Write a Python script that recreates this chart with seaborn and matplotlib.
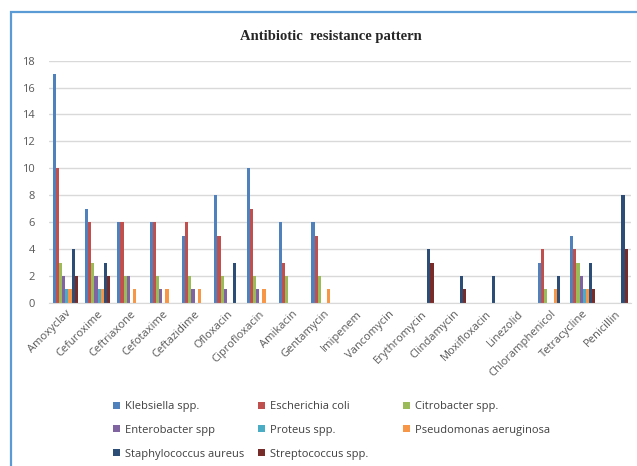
# ======================================================
# Antibiotic resistance pattern - clustered bar chart
# ======================================================

import pandas as pd
import numpy as np
import matplotlib.pyplot as plt
import seaborn as sns
from matplotlib.patches import Rectangle

# ======================================================
# DATOS
# ======================================================

antibiotics = ["Amoxyclav", "Cefuroxime", "Ceftriaxone", "Cefotaxime", "Ceftazidime",
               "Ofloxacin", "Ciprofloxacin", "Amikacin", "Gentamycin", "Imipenem",
               "Vancomycin", "Erythromycin", "Clindamycin", "Moxifloxacin", "Linezolid",
               "Chloramphenicol", "Tetracycline", "Penicillin"]

organisms = ["Klebsiella spp.", "Escherichia coli", "Citrobacter spp.",
             "Enterobacter spp", "Proteus spp.", "Pseudomonas aeruginosa",
             "Staphylococcus aureus", "Streptococcus spp."]

klebsiella   = [17, 7, 6, 6, 5, 8, 10, 6, 6, 0, 0, 0, 0, 0, 0, 3, 5, 0]
ecoli        = [10, 6, 6, 6, 6, 5, 7, 3, 5, 0, 0, 0, 0, 0, 0, 4, 4, 0]
citrobacter  = [3, 3, 2, 2, 2, 2, 2, 2, 2, 0, 0, 0, 0, 0, 0, 1, 3, 0]
enterobacter = [2, 2, 2, 1, 1, 1, 1, 0, 0, 0, 0, 0, 0, 0, 0, 0, 2, 0]
proteus      = [1, 1, 0, 0, 0, 0, 0, 0, 0, 0, 0, 0, 0, 0, 0, 0, 1, 0]
pseudomonas  = [1, 1, 1, 1, 1, 0, 1, 0, 1, 0, 0, 0, 0, 0, 0, 1, 1, 0]
staph        = [4, 3, 0, 0, 0, 3, 0, 0, 0, 0, 0, 4, 2, 2, 0, 2, 3, 8]
strep        = [2, 2, 0, 0, 0, 0, 0, 0, 0, 0, 0, 3, 1, 0, 0, 0, 1, 4]

series = [klebsiella, ecoli, citrobacter, enterobacter, proteus, pseudomonas, staph, strep]

colors = ["#4F81BD", "#C0504D", "#9BBB59", "#8064A2",
          "#4BACC6", "#F79646", "#2C4D75", "#772C2A"]

# formato largo para seaborn
rows = []
for org, vals in zip(organisms, series):
    for ab, v in zip(antibiotics, vals):
        rows.append({"Antibiotic": ab, "Organism": org, "Count": v})
df = pd.DataFrame(rows)

# ======================================================
# FIGURA
# ======================================================

sns.set_style("white")
plt.rcParams["font.family"] = ["Open Sans", "DejaVu Sans"]

fig = plt.figure(figsize=(6.37, 4.66), dpi=100)
ax = fig.add_axes([0.077, 0.35, 0.914, 0.52])

sns.barplot(data=df, x="Antibiotic", y="Count", hue="Organism",
            order=antibiotics, hue_order=organisms, palette=colors,
            width=0.78, linewidth=0, saturation=1, ax=ax, legend=True)

ax.set_ylim(0, 18)
ax.set_yticks(np.arange(0, 19, 2))
ax.set_xlim(-0.5, len(antibiotics) - 0.5)
ax.yaxis.grid(True, color="#D9D9D9", linewidth=1)
ax.set_axisbelow(True)
for s in ["top", "right", "left"]:
    ax.spines[s].set_visible(False)
ax.spines["bottom"].set_color("#D9D9D9")
ax.tick_params(axis="both", length=0, colors="#595959", labelsize=8)
ax.tick_params(axis="y", pad=10)
ax.tick_params(axis="x", pad=4)
plt.setp(ax.get_xticklabels(), rotation=45, ha="right", rotation_mode="anchor")
ax.set_xlabel("")
ax.set_ylabel("")

fig.text(0.52, 0.922, "Antibiotic  resistance pattern", ha="center", va="center",
         fontsize=10.5, fontweight="bold", family="Liberation Serif")

# ======================================================
# LEYENDA (tres columnas fijas)
# ======================================================

handles, labels = ax.get_legend_handles_labels()
ax.get_legend().remove()
col_x = [113, 258, 403]
for c in range(3):
    idx = [i for i in range(c, len(organisms), 3)]
    leg = fig.legend([handles[i] for i in idx], [labels[i] for i in idx],
                     loc="upper left", bbox_to_anchor=(col_x[c] / 637, 1 - 401 / 466),
                     frameon=False, ncol=1, fontsize=8, handlelength=0.6,
                     handleheight=0.6, handletextpad=0.5, labelspacing=1.15,
                     borderaxespad=0, borderpad=0, labelcolor="#404040")

# marco del grafico
fig.patches.append(Rectangle((11 / 637, -0.1), 1.0, 1 - 12 / 466 + 0.1,
                             transform=fig.transFigure, fill=False,
                             edgecolor="#5B9BD5", linewidth=1.6))

plt.savefig("out.png", dpi=100)
plt.close()
